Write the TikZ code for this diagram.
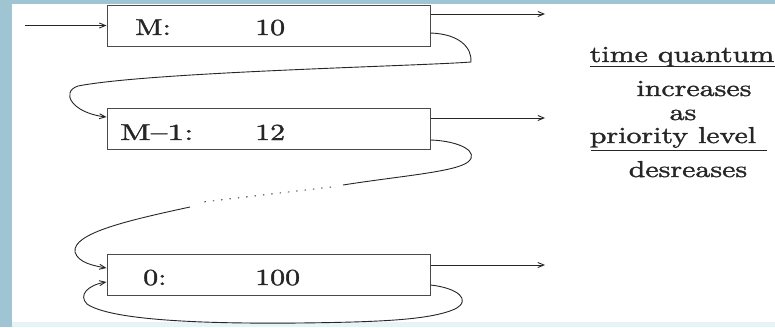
\documentclass[tikz,border=0pt]{standalone}
\usepackage{fontspec}
\usepackage{graphicx}
\usetikzlibrary{arrows.meta}
\newfontfamily\heavyfont{lmroman10-regular.otf}[FakeBold=1.3]
\definecolor{frameblue}{HTML}{9EC5D1}
\definecolor{bandlight}{HTML}{E6F3F7}
\definecolor{ink}{HTML}{262626}
\definecolor{boxline}{HTML}{4A4A4A}
% wide serif lettering
\newcommand\wtext[1]{\scalebox{1.3}[1]{#1}}
\tikzset{
  qbox/.style={draw=boxline, line width=1pt, rectangle, inner sep=0pt,
    minimum width=323pt, minimum height=41pt},
  lbl/.style={inner sep=0pt, anchor=base west, text=ink,
    font=\heavyfont\fontsize{23}{27}\selectfont},
  note/.style={inner sep=0pt, anchor=base, text=ink,
    font=\heavyfont\fontsize{23}{27}\selectfont},
  link/.style={draw=ink, line width=0.9pt},
  tip/.style={-{Straight Barb[length=6pt,width=5pt]}},
}
\begin{document}
\begin{tikzpicture}[x=1pt, y=-1pt]
  \useasboundingbox (0,0) rectangle (775,327);
  % page backdrop
  \fill[frameblue] (0,0) rectangle (775,327);
  \fill[white] (12,4) rectangle (775,322);
  \fill[bandlight] (12,322) rectangle (775,327);

  % priority queues
  \node[qbox] (m)  at (268.5,25.5) {};
  \node[qbox] (m1) at (268.5,129)  {};
  \node[qbox] (m0) at (268.5,275)  {};

  \node[lbl] (mlab)  at (135,35)  {\wtext{M:}};
  \node[lbl] (mval)  at (255,35)  {\wtext{10}};
  \node[lbl] (m1lab) at (120,140) {\scalebox{1.45}[1]{M–1:}};
  \node[lbl] (m1val) at (255,140) {\wtext{12}};
  \node[lbl] (m0lab) at (143,285) {\wtext{0:}};
  \node[lbl] (m0val) at (255,285) {\wtext{100}};

  % entry and exit arrows
  \coordinate (entry) at (25,25.5);
  \coordinate (outm)  at (545,14);
  \coordinate (outm1) at (545,118);
  \coordinate (outm0) at (545,265);
  \draw[link,tip] (entry) -- (m.west);
  \draw[link,tip] (m.east |- outm) -- (outm);
  \draw[link,tip] (m1.east |- outm1) -- (outm1);
  \draw[link,tip] (m0.east |- outm0) -- (outm0);

  % demotion from level M to level M-1
  \draw[link,tip] (m.east |- 0,33)
    .. controls (460,34) and (472,48) .. (471,62)
    .. controls (420,66) and (150,72) .. (78,86)
    .. controls (60,92) and (72,113) .. (m1.west |- 0,117);

  % demotion from level M-1 down towards level 0
  \coordinate (gapa) at (343,185);
  \coordinate (dota) at (331,187);
  \coordinate (dotb) at (203,202);
  \coordinate (gapb) at (190,207);
  \draw[link] (m1.east |- 0,140)
    .. controls (460,141) and (480,152) .. (468,162)
    .. controls (455,172) and (400,176) .. (gapa);
  \draw[link, dash pattern=on 1.4pt off 7pt] (dota) -- (dotb);
  \draw[link,tip] (gapb)
    .. controls (130,220) and (72,233) .. (75,252)
    .. controls (78,263) and (95,266) .. (m0.west |- 0,268);

  % round robin at the lowest level
  \draw[link,tip] (m0.east |- 0,285)
    .. controls (458,288) and (472,300) .. (455,309)
    .. controls (430,320) and (380,322) .. (300,323)
    .. controls (200,324) and (110,320) .. (87,304)
    .. controls (78,295) and (88,285) .. (m0.west |- 0,282);

  % side note
  \node[note] (tq)  at (682,62)  {\wtext{time quantum}};
  \node[note] (inc) at (694,96)  {\wtext{increases}};
  \node[note] (as)  at (683,120) {\wtext{as}};
  \node[note] (pl)  at (673,143) {\wtext{priority level}};
  \node[note] (dec) at (688,177) {\wtext{desreases}};
  \draw[link] (590,66) -- (775,66);
  \draw[link] (591,150) -- (767,150);
\end{tikzpicture}
\end{document}
